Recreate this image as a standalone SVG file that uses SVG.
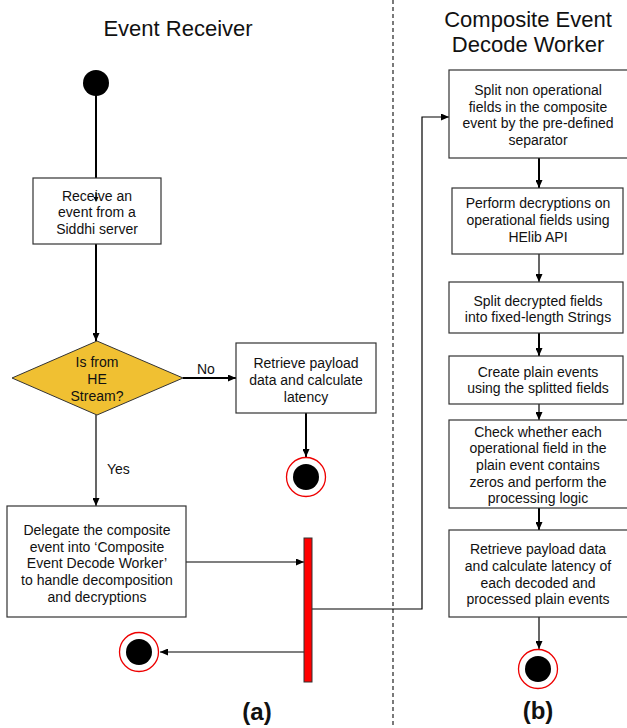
<svg xmlns="http://www.w3.org/2000/svg" width="627" height="728" viewBox="0 0 627 728">
  <style>
    text { font-family: "Liberation Sans", Arial, sans-serif; fill: #111; }
    .t { font-size: 14px; text-anchor: middle; }
    .lbl { font-size: 14px; }
    .title { font-size: 22px; text-anchor: middle; }
    .cap { font-size: 24px; font-weight: bold; text-anchor: middle; }
    .box { fill: #fff; stroke: #333; stroke-width: 1.2; }
    .c { fill: none; stroke: #000; }
    .thick { stroke-width: 2; }
    .thin { stroke-width: 1.2; }
    .endring { fill: #fff; stroke: #e00; stroke-width: 1.3; }
  </style>
  <defs>
    <marker id="arr" markerUnits="userSpaceOnUse" markerWidth="8" markerHeight="7" refX="8" refY="3.5" orient="auto">
      <path d="M0,0 L8,3.5 L0,7 z" fill="#000"/>
    </marker>
  </defs>

  <rect width="627" height="728" fill="#fff"/>

  <!-- lane titles and separator -->
  <text class="title" x="178" y="36">Event Receiver</text>
  <text class="title" x="528" y="27">Composite Event</text>
  <text class="title" x="528" y="52">Decode Worker</text>
  <line x1="393" y1="0" x2="393" y2="728" stroke="#222" stroke-width="1.2" stroke-dasharray="4,3"/>
  <text class="cap" x="257" y="720">(a)</text>
  <text class="cap" x="538" y="719">(b)</text>

  <!-- connectors -->
  <g id="connectors">
    <path class="c thick" d="M96,95 V178"/>
    <path class="c thin" d="M96,191 V201" marker-end="url(#arr)"/>
    <path class="c thick" d="M96,244 V341" marker-end="url(#arr)"/>
    <path class="c thick" d="M183,378 H236" marker-end="url(#arr)"/>
    <path class="c thick" d="M306,413 V457" marker-end="url(#arr)"/>
    <path class="c thin" d="M96,415 V506" marker-end="url(#arr)"/>
    <path class="c thin" d="M186,562 H304" marker-end="url(#arr)"/>
    <path class="c thin" d="M304,652 H160" marker-end="url(#arr)"/>
    <path class="c thin" d="M312,609 H422 V117 H449" marker-end="url(#arr)"/>
    <path class="c thick" d="M539,158 V188" marker-end="url(#arr)"/>
    <path class="c thin" d="M539,254 V282" marker-end="url(#arr)"/>
    <path class="c thick" d="M539,333 V356" marker-end="url(#arr)"/>
    <path class="c thin" d="M539,404 V420" marker-end="url(#arr)"/>
    <path class="c thick" d="M539,508 V530" marker-end="url(#arr)"/>
    <path class="c thin" d="M539,617 V649" marker-end="url(#arr)"/>
  </g>
  <text class="lbl" x="197" y="374">No</text>
  <text class="lbl" x="107" y="474">Yes</text>

  <!-- Event Receiver lane -->
  <g id="start">
    <circle cx="96" cy="83" r="13" fill="#000"/>
  </g>
  <g id="receive">
    <rect class="box" x="33" y="178" width="128" height="66"/>
    <path class="c thin" d="M96,192 V200" />
    <path d="M93.5,197 L96,202 L98.5,197 z" fill="#000"/>
    <text class="t" x="97" y="201">Receive an</text>
    <text class="t" x="97" y="217">event from a</text>
    <text class="t" x="97" y="234">Siddhi server</text>
  </g>
  <g id="decision">
    <polygon points="97,341 183,378 97,415 12,378" fill="#f0c032" stroke="#333" stroke-width="1"/>
    <text class="t" x="97" y="367">Is from</text>
    <text class="t" x="97" y="384">HE</text>
    <text class="t" x="97" y="401">Stream?</text>
  </g>
  <g id="retrieve-latency">
    <rect class="box" x="236" y="343" width="140" height="70"/>
    <text class="t" x="306" y="368">Retrieve payload</text>
    <text class="t" x="306" y="385">data and calculate</text>
    <text class="t" x="306" y="402">latency</text>
  </g>
  <g id="end-a1">
    <circle class="endring" cx="306" cy="477" r="19.5"/>
    <circle cx="306" cy="477" r="13" fill="#000"/>
  </g>
  <g id="delegate">
    <rect class="box" x="7" y="506" width="179" height="111"/>
    <text class="t" x="97" y="535">Delegate the composite</text>
    <text class="t" x="97" y="552">event into ‘Composite</text>
    <text class="t" x="97" y="568">Event Decode Worker’</text>
    <text class="t" x="97" y="585">to handle decomposition</text>
    <text class="t" x="97" y="602">and decryptions</text>
  </g>
  <g id="fork">
    <rect x="304" y="538" width="8" height="144" fill="#f00" stroke="#333" stroke-width="1"/>
  </g>
  <g id="end-a2">
    <circle class="endring" cx="139" cy="652" r="19.5"/>
    <circle cx="139" cy="652" r="13" fill="#000"/>
  </g>

  <!-- Composite Event Decode Worker lane -->
  <g id="split-nonop">
    <rect class="box" x="449" y="70" width="190" height="88"/>
    <text class="t" x="538" y="95">Split non operational</text>
    <text class="t" x="538" y="112">fields in the composite</text>
    <text class="t" x="538" y="128">event by the pre-defined</text>
    <text class="t" x="538" y="145">separator</text>
  </g>
  <g id="decrypt">
    <rect class="box" x="452" y="188" width="171" height="66"/>
    <text class="t" x="538" y="208">Perform decryptions on</text>
    <text class="t" x="538" y="225">operational fields using</text>
    <text class="t" x="538" y="242">HElib API</text>
  </g>
  <g id="split-decrypted">
    <rect class="box" x="449" y="282" width="174" height="51"/>
    <text class="t" x="538" y="306">Split decrypted fields</text>
    <text class="t" x="538" y="322">into fixed-length Strings</text>
  </g>
  <g id="create-plain">
    <rect class="box" x="449" y="356" width="174" height="48"/>
    <text class="t" x="538" y="377">Create plain events</text>
    <text class="t" x="538" y="393">using the splitted fields</text>
  </g>
  <g id="check-zeros">
    <rect class="box" x="449" y="420" width="190" height="88"/>
    <text class="t" x="538" y="437">Check whether each</text>
    <text class="t" x="538" y="453">operational field in the</text>
    <text class="t" x="538" y="470">plain event contains</text>
    <text class="t" x="538" y="487">zeros and perform the</text>
    <text class="t" x="538" y="503">processing logic</text>
  </g>
  <g id="retrieve-decoded">
    <rect class="box" x="449" y="530" width="190" height="87"/>
    <text class="t" x="538" y="554">Retrieve payload data</text>
    <text class="t" x="538" y="571">and calculate latency of</text>
    <text class="t" x="538" y="588">each decoded and</text>
    <text class="t" x="538" y="604">processed plain events</text>
  </g>
  <g id="end-b">
    <circle class="endring" cx="538" cy="669" r="19.5"/>
    <circle cx="538" cy="669" r="13" fill="#000"/>
  </g>
</svg>
